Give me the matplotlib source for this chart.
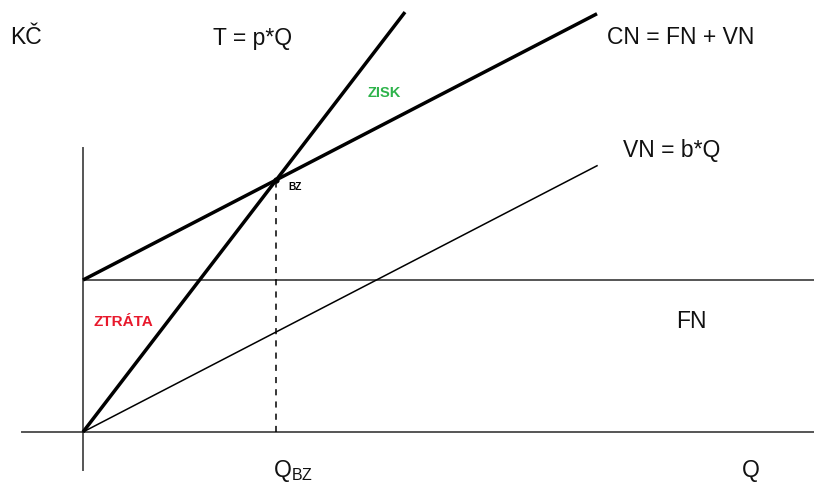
import numpy as np
import matplotlib
matplotlib.use("Agg")
import matplotlib.pyplot as plt

plt.rcParams['font.family'] = ['Liberation Sans', 'DejaVu Sans']

# Break-even model parameters
fixed_costs = 152.0      # FN
unit_price = 1.304       # p
unit_var_cost = 0.518    # b
q_end_revenue = 322.0
q_end_costs = 514.0

q_bz = fixed_costs / (unit_price - unit_var_cost)
y_bz = unit_price * q_bz

fig = plt.figure(figsize=(8.14, 4.83), dpi=100)
ax = fig.add_axes([0, 0, 1, 1])
ax.set_xlim(-83, 731)
ax.set_ylim(-51, 432)
ax.axis('off')

axis_col = '#555555'
# axes
ax.plot([-61, 731], [0, 0], color=axis_col, lw=1.4)
ax.plot([0, 0], [-38, 284], color=axis_col, lw=1.4)
# fixed costs
ax.plot([0, 731], [fixed_costs, fixed_costs], color=axis_col, lw=1.4)

# revenue T = p*Q
q = np.array([0, q_end_revenue])
ax.plot(q, unit_price * q, color='black', lw=2.5, solid_capstyle='butt')
# total costs CN = FN + VN
q = np.array([0, q_end_costs])
ax.plot(q, fixed_costs + unit_var_cost * q, color='black', lw=2.5, solid_capstyle='butt')
# variable costs VN = b*Q
ax.plot(q, unit_var_cost * q, color='black', lw=1.1)

# break-even point
ax.plot([q_bz, q_bz], [0, y_bz], color='black', lw=1.1, ls=(0, (4, 4)))
ax.plot(q_bz, y_bz, 'o', color='black', ms=3.5)

fs = 16.5
tc = '#111111'
ax.text(-73, 394, 'KČ', fontsize=fs, va='center', ha='left', color=tc)
ax.text(130, 394, 'T = p*Q', fontsize=fs, va='center', ha='left', color=tc)
ax.text(524, 394, 'CN = FN + VN', fontsize=fs, va='center', ha='left', color=tc)
ax.text(540, 281, 'VN = b*Q', fontsize=fs, va='center', ha='left', color=tc)
ax.text(593, 111, 'FN', fontsize=fs, va='center', ha='left', color=tc)
ax.text(659, -38, 'Q', fontsize=fs, va='center', ha='left', color=tc)
ax.text(190, -39, 'Q$_{\\mathregular{BZ}}$', fontsize=fs, va='center', ha='left', color=tc)

ax.text(285, 339, 'ZISK', fontsize=10.5, fontweight='bold', va='center', ha='left', color='#2db34a')
ax.text(10, 110, 'ZTRÁTA', fontsize=11, fontweight='bold', va='center', ha='left', color='#e8192c')
ax.text(q_bz + 12, y_bz - 7, 'BZ', fontsize=7.3, fontweight='bold', va='center', ha='left', color='black')

fig.savefig('out.png', dpi=100, facecolor='white')
